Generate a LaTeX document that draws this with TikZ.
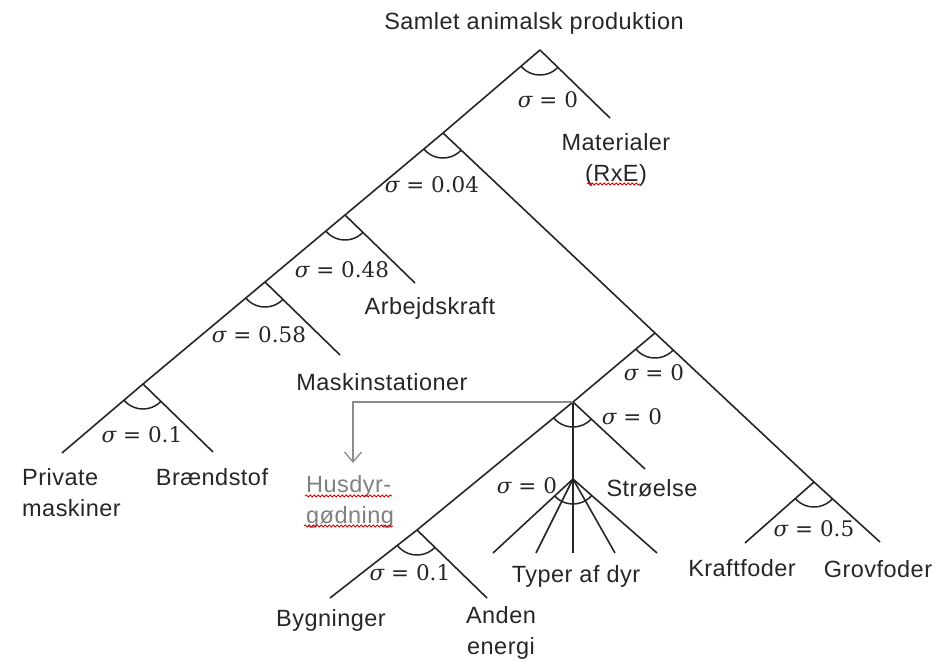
\documentclass[tikz,border=0pt]{standalone}
\usepackage{fontspec}
\setmainfont{Liberation Sans}[LetterSpace=2]
\newfontfamily\sigfont{DejaVu Serif}
\usetikzlibrary{calc,arrows.meta,decorations.pathmorphing}
\newcommand{\sigarc}[3]{%
  \draw[arcline] let \p1=($(#2)-(#1)$), \p2=($(#3)-(#1)$),
    \n1={atan2(\y1,\x1)}, \n2={atan2(\y2,\x2)} in
    ($(#1)+(\n1:25pt)$) arc[start angle=\n1, end angle=\n2, radius=25pt];}
\newcommand{\sig}[1]{{\itshape σ} = #1}
\begin{document}
\begin{tikzpicture}[x=1pt,y=1pt,
  branch/.style={draw=black!85, line width=1.6pt},
  arcline/.style={draw=black!85, line width=1.5pt},
  lbl/.style={font=\fontsize{23.5}{31}\selectfont, text=black!85, inner sep=0pt},
  sig/.style={font=\sigfont\fontsize{21.5}{28}\selectfont, text=black!85, inner sep=0pt},
  graylbl/.style={lbl, text=black!50},
  link/.style={draw=black!45, line width=1.3pt, -{Straight Barb[length=10pt,width=17pt]}},
  squig/.style={draw=red!85!black, line width=0.8pt, decorate,
    decoration={snake, amplitude=1.1pt, segment length=4pt}}]
\useasboundingbox (0,0) rectangle (938,-661);

% apexes
\coordinate (n1) at (540,-50);
\coordinate (n2) at (443,-133);
\coordinate (n3) at (345,-215);
\coordinate (n4) at (265,-282);
\coordinate (n5) at (143,-384);
\coordinate (n6) at (655,-333);
\coordinate (n7) at (573,-402);
\coordinate (n8) at (417,-530);
\coordinate (n9) at (573,-479);
\coordinate (n10) at (814,-482);
% branch ends
\coordinate (e1) at (610,-118);
\coordinate (e3) at (415,-283);
\coordinate (e4) at (340,-355);
\coordinate (e5l) at (62,-453);
\coordinate (e5r) at (213,-452);
\coordinate (e7r) at (645,-469);
\coordinate (e8l) at (330,-598);
\coordinate (e8r) at (487,-598);
\coordinate (e10l) at (745,-543);
\coordinate (e10r) at (880,-542);
\coordinate (h1) at (493,-553);
\coordinate (h2) at (536,-553);
\coordinate (h3) at (573,-553);
\coordinate (h4) at (615,-553);
\coordinate (h5) at (657,-553);
\coordinate (tip) at (353,-463);

% branches
\draw[branch] (n1) -- (n2) -- (n3) -- (n4) -- (n5) -- (e5l);
\draw[branch] (n1) -- (e1);
\draw[branch] (n2) -- (n6) -- (n10) -- (e10r);
\draw[branch] (n3) -- (e3);
\draw[branch] (n4) -- (e4);
\draw[branch] (n5) -- (e5r);
\draw[branch] (n6) -- (n7) -- (n8) -- (e8l);
\draw[branch] (n7) -- (n9);
\draw[branch] (n7) -- (e7r);
\draw[branch] (n8) -- (e8r);
\draw[branch] (n10) -- (e10l);
\foreach \i in {1,...,5} \draw[branch] (n9) -- (h\i);

% substitution arcs
\sigarc{n1}{n2}{e1}
\sigarc{n2}{n3}{n6}
\sigarc{n3}{n4}{e3}
\sigarc{n4}{n5}{e4}
\sigarc{n5}{e5l}{e5r}
\sigarc{n6}{n7}{n10}
\sigarc{n7}{n8}{e7r}
\sigarc{n8}{e8l}{e8r}
\sigarc{n9}{h1}{h5}
\sigarc{n10}{e10l}{e10r}

% gray link
\draw[link] (n7) -| (tip);

% labels
\node[lbl] (title) at (534,-23) {Samlet animalsk produktion};
\node[lbl, align=center] (mat) at (616,-160) {Materialer\\(RxE)};
\node[lbl] (arb) at (430,-308) {Arbejdskraft};
\node[lbl] (mask) at (382,-382) {Maskinstationer};
\node[lbl, align=left, anchor=west] (priv) at (22,-493) {Private\\maskiner};
\node[lbl] (braend) at (212,-477) {Brændstof};
\node[graylbl, align=left, anchor=west] (husdyr) at (306,-502) {Husdyr-\\gødning};
\node[lbl] (stroe) at (652,-488) {Strøelse};
\node[lbl] (typer) at (576,-576) {Typer af dyr};
\node[lbl] (byg) at (331,-620) {Bygninger};
\node[lbl, align=center] (anden) at (501,-633) {Anden\\energi};
\node[lbl] (kraft) at (742,-568) {Kraftfoder};
\node[lbl] (grov) at (878,-569) {Grovfoder};

% sigma labels
\node[sig] (s1) at (548,-100) {\sig{0}};
\node[sig] (s2) at (432,-185) {\sig{0.04}};
\node[sig] (s3) at (342,-270) {\sig{0.48}};
\node[sig] (s4) at (259,-335) {\sig{0.58}};
\node[sig] (s5) at (142,-435) {\sig{0.1}};
\node[sig] (s6) at (654,-373) {\sig{0}};
\node[sig] (s7) at (632,-417) {\sig{0}};
\node[sig] (s9) at (527,-486) {\sig{0}};
\node[sig] (s8) at (410,-573) {\sig{0.1}};
\node[sig] (s10) at (814,-529) {\sig{0.5}};

% spell-check underlines
\draw[squig] (587,-184) -- (640,-184);
\draw[squig] (305,-496) -- (392,-496);
\draw[squig] (304,-526) -- (393,-526);
\end{tikzpicture}
\end{document}
